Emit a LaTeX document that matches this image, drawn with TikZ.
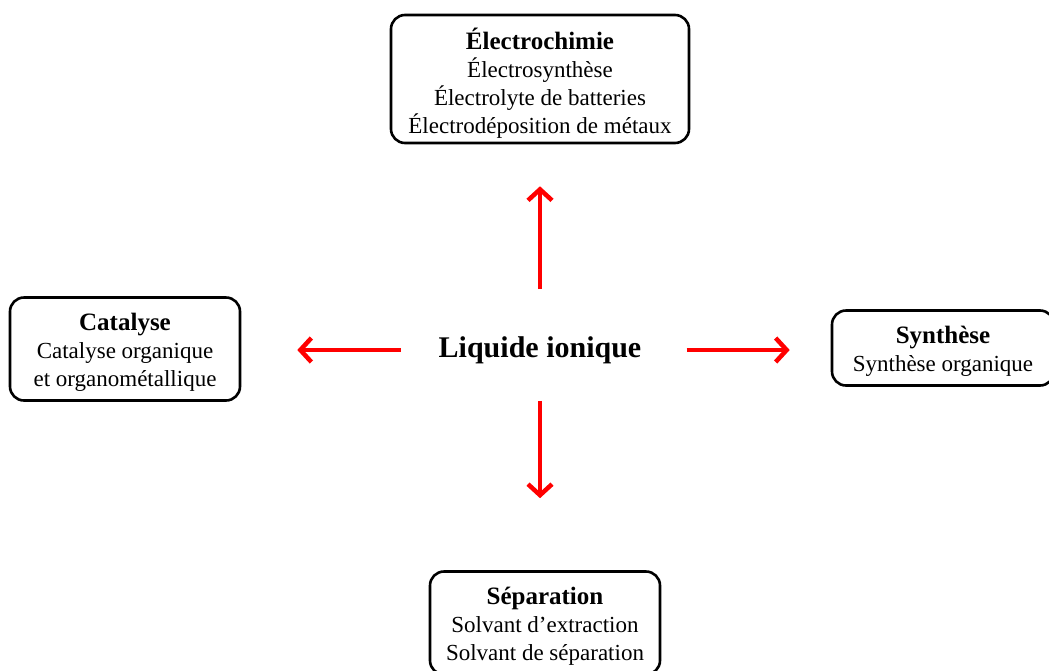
\documentclass[tikz,border=0pt]{standalone}
\usepackage{fontspec}
\setmainfont{Liberation Serif}
\usetikzlibrary{arrows.meta}
\newcommand\boxtitle[2]{{\fontsize{25}{30}\selectfont\bfseries\rule{0pt}{#1}#2}}
\begin{document}
\begin{tikzpicture}[x=1pt,y=-1pt,
  box/.style={draw=black, line width=2.6pt, rounded corners=14pt, align=center,
    inner sep=0pt, font=\fontsize{23}{28}\selectfont},
  arr/.style={draw=red, line width=4.5pt, -{Straight Barb[length=11pt,width=24pt]}}]
\useasboundingbox (0,0) rectangle (1049,670);
\node[box, minimum width=298pt, minimum height=128pt] (top) at (540,79)
  {\boxtitle{29pt}{Électrochimie}\\Électrosynthèse\\Électrolyte de batteries\\Électrodéposition de métaux};
\node[box, minimum width=230pt, minimum height=103pt] (cat) at (125,349)
  {\boxtitle{23.5pt}{Catalyse}\\Catalyse organique\\et organométallique};
\node[box, minimum width=222pt, minimum height=75pt] (syn) at (943,348)
  {\boxtitle{23.5pt}{Synthèse}\\Synthèse organique};
\node[box, minimum width=230pt, minimum height=103pt] (bot) at (545,623)
  {\boxtitle{23.5pt}{Séparation}\\Solvant d’extraction\\Solvant de séparation};
\node[font=\fontsize{30}{36}\selectfont\bfseries, inner sep=0pt] (li) at (540,350) {Liquide ionique};
\draw[arr, shorten <=47pt, shorten >=42pt] (li.north) -- (li.north |- top.south);
\draw[arr, shorten <=37pt, shorten >=72pt] (li.south) -- (li.south |- bot.north);
\draw[arr, shorten <=38pt, shorten >=56pt] (li.west) -- (cat.east |- li.west);
\draw[arr, shorten <=45pt, shorten >=41pt] (li.east) -- (syn.west |- li.east);
\end{tikzpicture}
\end{document}
